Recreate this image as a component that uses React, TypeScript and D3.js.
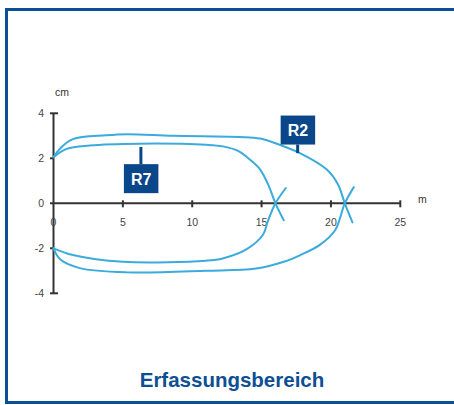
import React from "react";
import * as d3 from "d3";

// Data: [distance m, offset cm]
const r2Upper: [number, number][] = [
  [0, 2.05], [0.5, 2.45], [1.4, 2.85], [3.8, 3.02], [5.3, 3.07], [8.6, 3.0],
  [13.4, 2.95], [14.9, 2.88], [16.3, 2.6], [17.8, 2.22], [19.7, 1.5],
  [20.5, 0.85], [21, 0], [21.55, -0.85],
];
const r2Lower: [number, number][] = [
  [21.65, 0.72], [21, 0], [20.3, -1.2], [19.2, -1.85], [17.8, -2.3],
  [16.6, -2.6], [14.6, -2.9], [11, -3.0], [5.3, -3.07], [1.9, -2.88],
  [0.5, -2.5], [0, -2.0],
];
const r7Upper: [number, number][] = [
  [0, 2.05], [0.95, 2.42], [2.6, 2.57], [6.2, 2.65], [11, 2.6], [12.2, 2.53],
  [13.3, 2.33], [14.2, 1.92], [14.9, 1.5], [15.5, 0.8], [16, 0], [16.6, -0.75],
];
const r7Lower: [number, number][] = [
  [16.75, 0.68], [16, 0], [15.45, -0.8], [15.1, -1.4], [13.9, -2.05],
  [12.2, -2.45], [11, -2.55], [5, -2.6], [1.4, -2.3], [0, -2.0],
];
const xTicks = [0, 5, 10, 15, 20, 25];
const yTicks = [-4, -2, 0, 2, 4];
const labels = [
  { text: "R2", at: [17.6, 2.23] as [number, number], boxTop: 3.9 },
  { text: "R7", at: [6.3, 2.5] as [number, number], boxTop: 1.74 },
];
const title = "Erfassungsbereich";

const CURVE = "#3aabdc";
const DARK = "#0a468a";
const AXIS = "#333";
const FONT = "'Liberation Sans', Arial, sans-serif";

export default function App() {
  const x = d3.scaleLinear().domain([0, 25]).range([53.5, 400.3]);
  const y = d3.scaleLinear().domain([-4, 4]).range([293.3, 113.3]);
  const line = d3
    .line<[number, number]>()
    .x((d) => x(d[0]))
    .y((d) => y(d[1]))
    .curve(d3.curveCatmullRom.alpha(0.5));
  const x0 = x(0);
  const y0 = y(0);

  return (
    <svg
      width={454}
      height={405}
      style={{ position: "absolute", left: 0, top: 0, background: "#fff" }}
      fontFamily={FONT}
    >
      <rect x={6.5} y={9.5} width={470} height={393} fill="#fff" stroke="#0b4f96" strokeWidth={3} />

      {/* axes */}
      <g stroke={AXIS} strokeWidth={2} fill="none">
        <line x1={x0} x2={x0} y1={y(4)} y2={y(-4)} />
        <line x1={x0 - 3.5} x2={x(25)} y1={y0} y2={y0} />
        <line x1={x0 - 3.5} x2={x0 + 4.5} y1={y(4)} y2={y(4)} />
        <line x1={x0 - 3.5} x2={x0 + 4.5} y1={y(-4)} y2={y(-4)} />
        {[2, -2].map((t) => (
          <line key={t} x1={x0 - 3.5} x2={x0} y1={y(t)} y2={y(t)} />
        ))}
        {xTicks.filter((t) => t > 0).map((t) => (
          <line key={t} x1={x(t)} x2={x(t)} y1={y0 - 3} y2={y0 + 4} />
        ))}
      </g>
      <g fontSize={10.5} fill="#444">
        {yTicks.map((t) => (
          <text key={t} x={44} y={y(t)} dy="0.35em" textAnchor="end">
            {t}
          </text>
        ))}
        {xTicks.map((t) => (
          <text key={t} x={x(t)} y={y0 + 23} textAnchor="middle">
            {t}
          </text>
        ))}
        <text x={55} y={96} fill="#333">cm</text>
        <text x={418} y={203} fill="#333">m</text>
      </g>

      {/* curves */}
      <g stroke={CURVE} strokeWidth={2} fill="none" strokeLinecap="round">
        {[r2Upper, r2Lower, r7Upper, r7Lower].map((d, i) => (
          <path key={i} d={line(d) || ""} />
        ))}
      </g>

      {/* labels */}
      {labels.map((l) => {
        const cx = x(l.at[0]);
        const top = y(l.boxTop);
        const above = top < y(l.at[1]);
        return (
          <g key={l.text}>
            <line
              x1={cx}
              x2={cx}
              y1={y(l.at[1])}
              y2={above ? top + 29 : top}
              stroke={DARK}
              strokeWidth={3}
            />
            <rect x={cx - 17} y={top} width={34.5} height={29} fill={DARK} />
            <text
              x={cx + 0.3}
              y={top + 20.5}
              textAnchor="middle"
              fill="#fff"
              fontWeight="bold"
              fontSize={16}
            >
              {l.text}
            </text>
          </g>
        );
      })}

      <text x={232} y={386.5} textAnchor="middle" fill="#0d4f94" fontWeight="bold" fontSize={20.5}>
        {title}
      </text>
    </svg>
  );
}
